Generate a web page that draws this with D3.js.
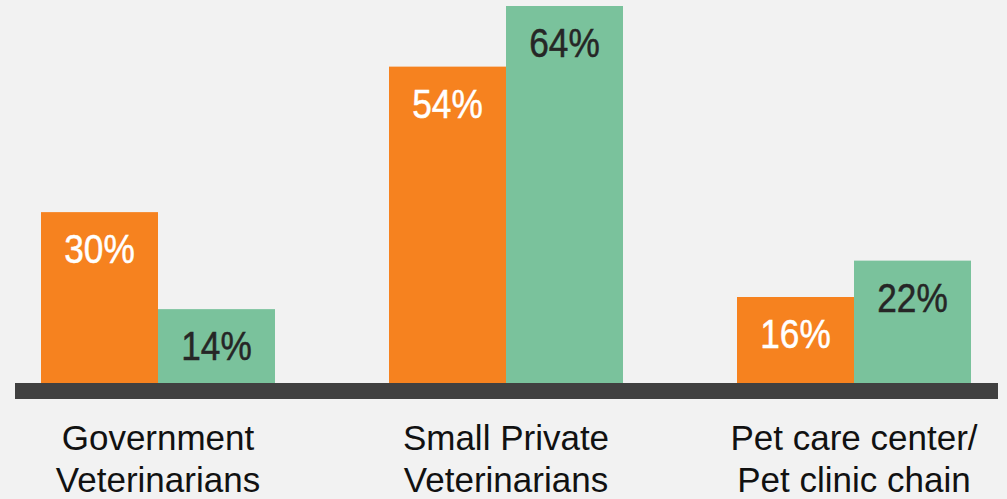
<!DOCTYPE html>
<html>
<head>
<meta charset="utf-8">
<script src="https://cdn.jsdelivr.net/npm/d3@7"></script>
<style>
  html, body { margin: 0; padding: 0; background: #f2f2f2; }
  svg { display: block; }
</style>
</head>
<body>
<svg id="chart" width="1007" height="499"></svg>
<script>
// Veterinary channel shares, two series per category
const categories = [
  ["Government", "Veterinarians"],
  ["Small Private", "Veterinarians"],
  ["Pet care center/", "Pet clinic chain"]
];
const seriesNames = ["A", "B"];
const seriesA = [30, 54, 16];
const seriesB = [14, 64, 22];

const colors = { A: "#f6821f", B: "#7ac29c" };
const labelColors = { A: "#ffffff", B: "#262626" };

const svg = d3.select("#chart");
const W = 1007, H = 499;

svg.append("rect").attr("width", W).attr("height", H).attr("fill", "#f2f2f2");

const keys = categories.map((c, i) => "c" + i);

const x0 = d3.scaleBand()
  .domain(keys)
  .range([41, 971])
  .paddingInner(0.3276)
  .paddingOuter(0);

const x1 = d3.scaleBand()
  .domain(seriesNames)
  .range([0, x0.bandwidth()]);

const y = d3.scaleLinear().domain([0, 64]).range([394, 6]);

const rows = keys.map((k, i) => ({ key: k, A: seriesA[i], B: seriesB[i] }));

const groups = svg.append("g").selectAll("g")
  .data(rows)
  .join("g")
  .attr("transform", d => `translate(${x0(d.key)},0)`);

const cells = groups.selectAll("g")
  .data(d => seriesNames.map(s => ({ s, v: d[s] })))
  .join("g");

cells.append("rect")
  .attr("x", d => x1(d.s))
  .attr("width", x1.bandwidth())
  .attr("y", d => y(d.v))
  .attr("height", d => y(0) - y(d.v))
  .attr("fill", d => colors[d.s]);

// Value labels in a condensed face (horizontally compressed)
cells.append("text")
  .attr("transform", d => `translate(${x1(d.s) + x1.bandwidth() / 2},${y(d.v) + 51}) scale(0.86,1)`)
  .attr("text-anchor", "middle")
  .attr("font-family", "'Liberation Sans', Arial, sans-serif")
  .attr("font-size", 41)
  .attr("fill", d => labelColors[d.s])
  .attr("stroke", d => labelColors[d.s])
  .attr("stroke-width", 0.5)
  .text(d => d.v + "%");

// Baseline strip across the bottom of the bars
svg.append("rect")
  .attr("x", 15)
  .attr("y", 383)
  .attr("width", 983)
  .attr("height", 16)
  .attr("fill", "#404040");

// Category labels on two lines
const catLabels = svg.append("g").selectAll("text")
  .data(keys.map((k, i) => ({ key: k, lines: categories[i] })))
  .join("text")
  .attr("text-anchor", "middle")
  .attr("font-family", "'Liberation Sans', Arial, sans-serif")
  .attr("font-size", 35)
  .attr("fill", "#111111");

catLabels.selectAll("tspan")
  .data(d => d.lines.map((t, j) => ({ t, j, cx: x0(d.key) + x0.bandwidth() / 2 })))
  .join("tspan")
  .attr("x", d => d.cx)
  .attr("y", d => 450 + d.j * 42)
  .text(d => d.t);
</script>
</body>
</html>
